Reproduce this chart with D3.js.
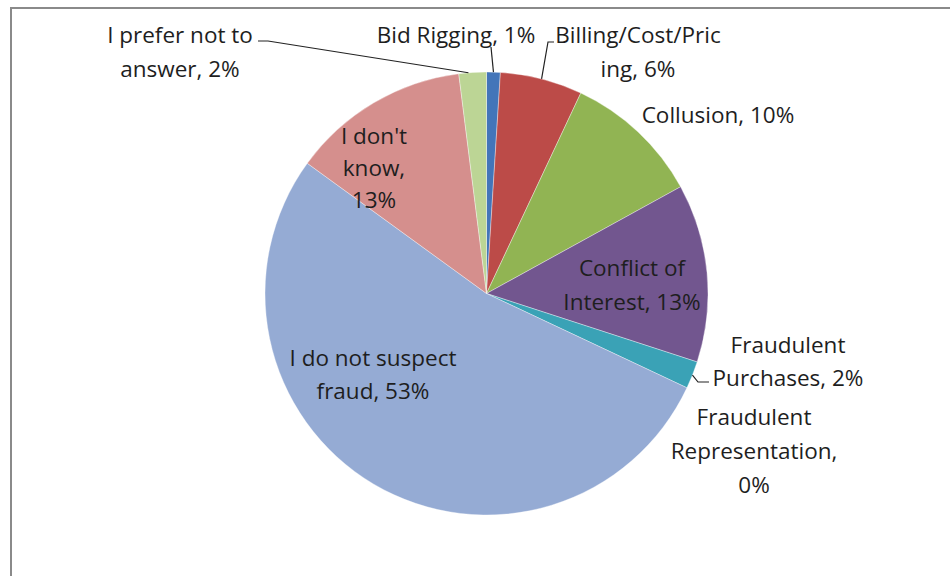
<!DOCTYPE html>
<html>
<head>
<meta charset="utf-8">
<script src="https://cdn.jsdelivr.net/npm/d3@7"></script>
<style>
  html, body { margin: 0; padding: 0; background: #fff; }
  svg { display: block; }
  text { font-family: "Open Sans", Lato, sans-serif; font-size: 22.5px; fill: #1e1e1e; }
</style>
</head>
<body>
<svg id="chart" width="950" height="576"></svg>
<script>
// Suspected fraud types, share of responses (%)
const categories = [
  "Bid Rigging",
  "Billing/Cost/Pricing",
  "Collusion",
  "Conflict of Interest",
  "Fraudulent Purchases",
  "Fraudulent Representation",
  "I do not suspect fraud",
  "I don't know",
  "I prefer not to answer"
];
const values = [1, 6, 10, 13, 2, 0, 53, 13, 2];
const colors = [
  "#4375B9", "#BC4B48", "#91B453", "#72568F", "#3AA2B6",
  "#F5923E", "#95ABD4", "#D58F8D", "#BCD595"
];
// Label text, broken into lines as drawn
const labelLines = [
  ["Bid Rigging, 1%"],
  ["Billing/Cost/Pric", "ing, 6%"],
  ["Collusion, 10%"],
  ["Conflict of", "Interest, 13%"],
  ["Fraudulent", "Purchases, 2%"],
  ["Fraudulent", "Representation,", "0%"],
  ["I do not suspect", "fraud, 53%"],
  ["I don't", "know,", "13%"],
  ["I prefer not to", "answer, 2%"]
];

const svg = d3.select("#chart");
const W = 950, H = 576;

// outer chart frame
svg.append("path")
  .attr("d", `M11,${H + 5}V8H${W + 5}`)
  .attr("fill", "none")
  .attr("stroke", "#8a8a8a")
  .attr("stroke-width", 2);

const cx = 486.5, cy = 293.5, R = 221.5;
const g = svg.append("g").attr("transform", `translate(${cx},${cy})`);

const data = categories.map((c, i) => ({ name: c, value: values[i], color: colors[i], lines: labelLines[i] }));
const pie = d3.pie().value(d => d.value).sort(null).startAngle(0).endAngle(2 * Math.PI);
const arcs = pie(data);
const arc = d3.arc().innerRadius(0).outerRadius(R);

g.selectAll("path.slice")
  .data(arcs.filter(a => a.data.value > 0))
  .join("path")
  .attr("class", "slice")
  .attr("d", arc)
  .attr("fill", d => d.data.color)
  .attr("stroke", "#ffffff")
  .attr("stroke-opacity", 0.45)
  .attr("stroke-width", 0.8);

// label placement: centre x, first baseline, line height
const labelPos = {
  "Bid Rigging": [456, 43, 34],
  "Billing/Cost/Pricing": [638, 43, 34],
  "Collusion": [718, 123, 34],
  "Conflict of Interest": [632, 276, 34],
  "Fraudulent Purchases": [788, 353, 33],
  "Fraudulent Representation": [754, 425, 34],
  "I do not suspect fraud": [373, 366, 33],
  "I don't know": [374, 144, 32],
  "I prefer not to answer": [180, 43, 34]
};

const labels = svg.append("g");
data.forEach(d => {
  const [x, y, lh] = labelPos[d.name];
  const t = labels.append("text").attr("text-anchor", "middle");
  d.lines.forEach((ln, k) => {
    t.append("tspan").attr("x", x).attr("y", y + k * lh).text(ln);
  });
});

// leader lines from outside labels to their slices
const arcByName = {};
arcs.forEach(a => { arcByName[a.data.name] = a; });
function edgePoint(name, frac) {
  const a = arcByName[name];
  const ang = a.startAngle + (a.endAngle - a.startAngle) * frac;
  return [cx + R * Math.sin(ang), cy - R * Math.cos(ang)];
}
const leaders = [
  [[258, 41], [268, 41], edgePoint("I prefer not to answer", 0.35)],
  [[491, 47], edgePoint("Bid Rigging", 0.5)],
  [[554, 42], [548, 42], edgePoint("Billing/Cost/Pricing", 0.5)],
  [[709, 382], [698, 382], edgePoint("Fraudulent Purchases", 0.5)]
];
svg.append("g").selectAll("path")
  .data(leaders)
  .join("path")
  .attr("d", d => d3.line()(d))
  .attr("fill", "none")
  .attr("stroke", "#222")
  .attr("stroke-width", 1.2);
</script>
</body>
</html>
